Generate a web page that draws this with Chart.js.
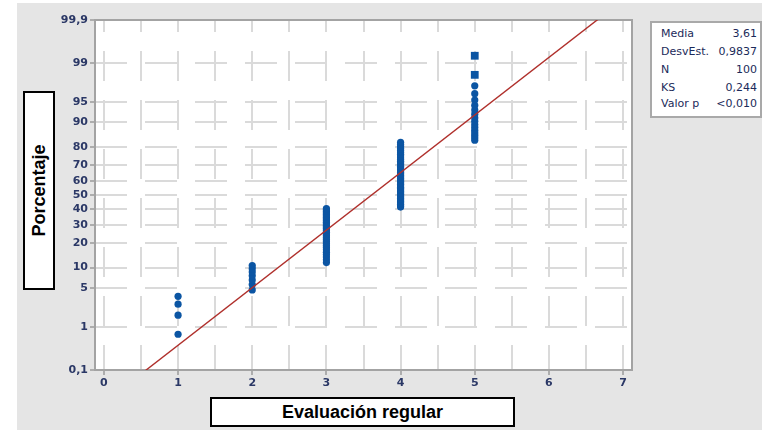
<!DOCTYPE html>
<html>
<head>
<meta charset="utf-8">
<script src="https://cdn.jsdelivr.net/npm/chart.js@4/dist/chart.umd.min.js"></script>
<style>
  html, body { margin: 0; padding: 0; background: #fff; }
  #wrap { position: relative; width: 762px; height: 430px; overflow: hidden; }
  #chart { position: absolute; left: 0; top: 0; }
  .tbox {
    position: absolute; background: #fff; border: 2px solid #000; box-sizing: border-box;
    font: bold 18px "Liberation Sans", Arial, sans-serif; color: #000;
    display: flex; align-items: center; justify-content: center; white-space: nowrap;
  }
  #ytitle { left: 23px; top: 91px; width: 32px; height: 199px; }
  #ytitle span { display: block; transform: rotate(-90deg); }
  #xtitle { left: 210px; top: 397px; width: 305px; height: 30px; }
  #stats {
    position: absolute; left: 650px; top: 21px; width: 112px; height: 97px;
    background: #fff; border: 2px solid #a9a9a9; box-sizing: border-box;
    font: 11px "DejaVu Sans", sans-serif; color: #1b2a5a;
  }
  #stats .row { position: absolute; left: 9px; right: 3px; height: 14px; line-height: 14px; }
  #stats .row span:last-child { position: absolute; right: 0; }
</style>
</head>
<body>
<div id="wrap">
  <canvas id="chart" width="762" height="430"></canvas>
  <div id="ytitle" class="tbox"><span>Porcentaje</span></div>
  <div id="xtitle" class="tbox">Evaluación regular</div>
  <div id="stats"></div>
</div>
<script>
// Observed scores and how many times each occurs
const scores = [1, 2, 3, 4, 5];
const counts = [4, 7, 30, 42, 17];

// Summary statistics shown in the side table
const media = 3.61;
const desvEst = 0.9837;
const nObs = 100;
const ks = 0.244;
const statNames  = ['Media', 'DesvEst.', 'N', 'KS', 'Valor p'];
const statValues = ['3,61', '0,9837', '100', '0,244', '<0,010'];

// Probability-scale axis (percent) and its labels
const pctTicks  = [0.1, 1, 5, 10, 20, 30, 40, 50, 60, 70, 80, 90, 95, 99, 99.9];
const pctLabels = ['0,1', '1', '5', '10', '20', '30', '40', '50', '60', '70', '80', '90', '95', '99', '99,9'];

// Score axis labels (grid every half unit)
const xLabels = ['0', '1', '2', '3', '4', '5', '6', '7'];

// Inverse of the standard normal CDF (Acklam's approximation)
function invNorm(p) {
  const a = [-3.969683028665376e+01, 2.209460984245205e+02, -2.759285104469687e+02, 1.383577518672690e+02, -3.066479806614716e+01, 2.506628277459239e+00];
  const b = [-5.447609879822406e+01, 1.615858368580409e+02, -1.556989798598866e+02, 6.680131188771972e+01, -1.328068155288572e+01];
  const c = [-7.784894002430293e-03, -3.223964580411365e-01, -2.400758277161838e+00, -2.549671348283508e+00, 4.374664141464968e+00, 2.938163982698783e+00];
  const d = [7.784695709041462e-03, 3.224671290700398e-01, 2.445134137142996e+00, 3.754408661907416e+00];
  const plow = 0.02425, phigh = 1 - plow;
  let q, r;
  if (p < plow) {
    q = Math.sqrt(-2 * Math.log(p));
    return (((((c[0]*q+c[1])*q+c[2])*q+c[3])*q+c[4])*q+c[5]) / ((((d[0]*q+d[1])*q+d[2])*q+d[3])*q+1);
  }
  if (p <= phigh) {
    q = p - 0.5; r = q * q;
    return (((((a[0]*r+a[1])*r+a[2])*r+a[3])*r+a[4])*r+a[5])*q / (((((b[0]*r+b[1])*r+b[2])*r+b[3])*r+b[4])*r+1);
  }
  q = Math.sqrt(-2 * Math.log(1 - p));
  return -(((((c[0]*q+c[1])*q+c[2])*q+c[3])*q+c[4])*q+c[5]) / ((((d[0]*q+d[1])*q+d[2])*q+d[3])*q+1);
}

// Each observation plotted at its median-rank percentile, (i - 0.3) / (n + 0.4)
const points = [];
let rank = 0;
scores.forEach((s, k) => {
  for (let j = 0; j < counts[k]; j++) {
    rank++;
    points.push({ x: s, y: invNorm((rank - 0.3) / (nObs + 0.4)) });
  }
});

// Fitted normal line from the mean and standard deviation
const zEnds = [-3.4, 3.4];
const fitLine = zEnds.map(z => ({ x: media + desvEst * z, y: z }));

const yMin = invNorm(pctTicks[0] / 100);
const yMax = invNorm(pctTicks[pctTicks.length - 1] / 100);

// Stats table
const stats = document.getElementById('stats');
const rowTops = [4, 22, 40, 58, 74];
statNames.forEach((nm, i) => {
  const row = document.createElement('div');
  row.className = 'row';
  row.style.top = rowTops[i] + 'px';
  row.innerHTML = '<span>' + nm + '</span><span>' + statValues[i] + '</span>';
  stats.appendChild(row);
});

const tickFont = { family: 'DejaVu Sans', weight: 'bold', size: 11 };
const tickColor = '#2b3866';
const gridColor = '#dadada';

const panel = {
  id: 'panel',
  beforeDraw(chart) {
    const { ctx, chartArea: a } = chart;
    ctx.save();
    ctx.fillStyle = '#ffffff';
    ctx.fillRect(0, 0, chart.width, chart.height);
    ctx.fillStyle = '#e5e5e5';
    ctx.fillRect(17, 3, chart.width - 17, chart.height - 3);
    ctx.fillStyle = '#ffffff';
    ctx.fillRect(a.left, a.top, a.right - a.left, a.bottom - a.top);
    ctx.restore();
  },
  beforeDatasetsDraw(chart) {
    const { ctx, chartArea: a } = chart;
    ctx.save();
    ctx.strokeStyle = '#a3a3a3';
    ctx.lineWidth = 2;
    ctx.strokeRect(a.left, a.top, a.right - a.left, a.bottom - a.top);
    ctx.restore();
  }
};

new Chart(document.getElementById('chart'), {
  type: 'scatter',
  data: {
    datasets: [
      {
        type: 'line',
        data: fitLine,
        borderColor: '#b0302c',
        borderWidth: 1.4,
        pointRadius: 0,
        fill: false
      },
      {
        data: points,
        backgroundColor: '#0b55a3',
        borderColor: '#0b55a3',
        borderWidth: 0,
        pointStyle: ctx => (ctx.dataIndex >= points.length - 2 ? 'rect' : 'circle'),
        pointRadius: ctx => (ctx.dataIndex >= points.length - 2 ? 5.5 : 3.6)
      }
    ]
  },
  options: {
    responsive: false,
    devicePixelRatio: 1,
    animation: false,
    events: [],
    layout: { padding: { left: 0, top: 20, right: 130, bottom: 30 } },
    plugins: { legend: { display: false }, tooltip: { enabled: false }, title: { display: false } },
    scales: {
      x: {
        type: 'linear',
        min: -0.12,
        max: 7.12,
        afterBuildTicks(scale) {
          const t = [];
          for (let v = 0; v <= 7; v += 0.5) t.push({ value: v });
          scale.ticks = t;
        },
        afterFit(scale) { scale.height = 30; },
        ticks: {
          autoSkip: false, maxRotation: 0, padding: 2,
          font: tickFont, color: tickColor,
          callback: v => (Number.isInteger(v) ? xLabels[v] : '')
        },
        grid: {
          color: gridColor, lineWidth: 2, tickLength: 5, tickWidth: 1.5,
          tickColor: ctx => (ctx.tick && Number.isInteger(ctx.tick.value) ? '#9a9a9a' : 'rgba(0,0,0,0)')
        },
        border: { display: false, dash: [30, 19], dashOffset: 18 }
      },
      y: {
        type: 'linear',
        min: yMin,
        max: yMax,
        afterBuildTicks(scale) {
          scale.ticks = pctTicks.map(p => ({ value: invNorm(p / 100) }));
        },
        afterFit(scale) { scale.width = 95; },
        ticks: {
          autoSkip: false, padding: 2,
          font: tickFont, color: tickColor,
          callback: (v, i) => pctLabels[i]
        },
        grid: {
          lineWidth: 2, tickLength: 5, tickWidth: 1.5, tickColor: '#9a9a9a',
          color: ctx => (ctx.index === 0 || ctx.index === pctTicks.length - 1 ? 'rgba(0,0,0,0)' : gridColor)
        },
        border: { display: false, dash: [32, 18], dashOffset: 0 }
      }
    }
  },
  plugins: [panel]
});
</script>
</body>
</html>
